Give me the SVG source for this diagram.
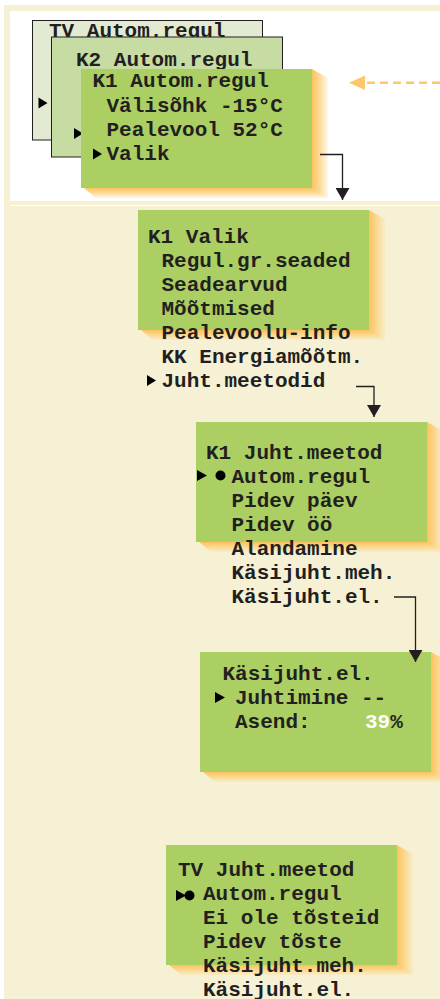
<svg xmlns="http://www.w3.org/2000/svg" width="440" height="999" viewBox="0 0 440 999">
<style>
.t{font-family:"Liberation Mono","Courier New",monospace;font-weight:bold;font-size:21px;fill:#231f20;}
.w{fill:#ffffff;}
.card{fill:#abcf62;}
.conn{fill:none;stroke:#231f20;stroke-width:1.3;}
.tri{fill:#000000;}
</style>
<defs>
<linearGradient id="shR" x1="0" y1="0" x2="1" y2="0">
<stop offset="0" stop-color="#fcc25c"/>
<stop offset="0.5" stop-color="#fdd27f" stop-opacity="0.8"/>
<stop offset="1" stop-color="#fdd88f" stop-opacity="0.2"/>
</linearGradient>
<linearGradient id="shB" x1="0" y1="0" x2="0" y2="1">
<stop offset="0" stop-color="#fcc25c"/>
<stop offset="0.5" stop-color="#fdd27f" stop-opacity="0.8"/>
<stop offset="1" stop-color="#fdd88f" stop-opacity="0.2"/>
</linearGradient>
<marker id="ah" markerUnits="userSpaceOnUse" markerWidth="12" markerHeight="14" viewBox="0 0 12 14" refX="12" refY="7" orient="auto">
<path d="M0,0 L12,7 L0,14 z" fill="#231f20"/>
</marker>
</defs>

<!-- background -->
<rect x="0" y="0" width="440" height="999" fill="#ffffff"/>
<rect x="4" y="5" width="436" height="994" fill="#f6f1d5"/>
<rect x="10" y="11" width="430" height="190" fill="#ffffff"/>
<rect x="10" y="205" width="430" height="1" fill="#ffffff"/>

<!-- TV Autom.regul (back) -->
<g id="tv-autom">
<rect x="32.5" y="20.5" width="230" height="119.5" fill="#e2ebd2" stroke="#231f20" stroke-width="1"/>
<text class="t" x="49" y="37">TV Autom.regul</text>
<polygon class="tri" points="38.5,97.5 47.5,103 38.5,108.5"/>
</g>

<!-- K2 Autom.regul -->
<g id="k2-autom">
<rect x="51.5" y="37" width="231" height="120" fill="#c7dca2" stroke="#231f20" stroke-width="1"/>
<text class="t" x="76" y="66">K2 Autom.regul</text>
<polygon class="tri" points="74,128 83,133.5 74,139"/>
</g>

<!-- K1 Autom.regul -->
<g id="k1-autom">
<polygon fill="url(#shR)" points="312,69 328,78 328,198 312,188"/>
<polygon fill="url(#shB)" points="84,188 312,188 328,198 96,198"/>
<rect class="card" x="81" y="69" width="231" height="119"/>
<text class="t" x="92.5" y="87">K1 Autom.regul</text>
<text class="t" x="106.5" y="111.5">Välisõhk -15°C</text>
<text class="t" x="106.5" y="135.5">Pealevool 52°C</text>
<text class="t" x="106.5" y="159.5">Valik</text>
<polygon class="tri" points="93,148.5 102,154 93,159.5"/>
</g>

<!-- K1 Valik -->
<g id="k1-valik">
<polygon fill="url(#shR)" points="369,210 385,219 385,340 369,330"/>
<polygon fill="url(#shB)" points="141,330 369,330 385,340 153,340"/>
<rect class="card" x="138" y="210" width="231" height="120"/>
<text class="t" x="148" y="243">K1 Valik</text>
<text class="t" x="161.5" y="267">Regul.gr.seaded</text>
<text class="t" x="161.5" y="291">Seadearvud</text>
<text class="t" x="161.5" y="315">Mõõtmised</text>
<text class="t" x="161.5" y="339">Pealevoolu-info</text>
<text class="t" x="161.5" y="363">KK Energiamõõtm.</text>
<text class="t" x="161.5" y="387">Juht.meetodid</text>
<polygon class="tri" points="147,375 156,380.5 147,386"/>
</g>

<!-- K1 Juht.meetod -->
<g id="k1-juht">
<polygon fill="url(#shR)" points="427,422 443,431 443,552 427,542"/>
<polygon fill="url(#shB)" points="199,542 427,542 443,552 211,552"/>
<rect class="card" x="196" y="422" width="231" height="120"/>
<text class="t" x="206" y="459">K1 Juht.meetod</text>
<text class="t" x="231.5" y="483">Autom.regul</text>
<text class="t" x="231.5" y="507">Pidev päev</text>
<text class="t" x="231.5" y="531">Pidev öö</text>
<text class="t" x="231.5" y="555">Alandamine</text>
<text class="t" x="231.5" y="579">Käsijuht.meh.</text>
<text class="t" x="231.5" y="603">Käsijuht.el.</text>
<polygon class="tri" points="197,470 207,475.5 197,481"/>
<circle cx="220.5" cy="475.5" r="5" fill="#000"/>
</g>

<!-- Käsijuht.el. -->
<g id="kasijuht-el">
<polygon fill="url(#shR)" points="431,652 447,661 447,782 431,772"/>
<polygon fill="url(#shB)" points="203,772 431,772 447,782 215,782"/>
<rect class="card" x="200" y="652" width="231" height="120"/>
<text class="t" x="222.5" y="680">Käsijuht.el.</text>
<text class="t" x="235" y="703.5">Juhtimine --</text>
<text class="t" x="235" y="727.5">Asend:</text>
<text class="t" x="365" y="727.5"><tspan class="w">39</tspan>%</text>
<polygon class="tri" points="215,692 225,697.5 215,703"/>
</g>

<!-- TV Juht.meetod -->
<g id="tv-juht">
<polygon fill="url(#shR)" points="397,845 413,854 413,975 397,965"/>
<polygon fill="url(#shB)" points="169,965 397,965 413,975 181,975"/>
<rect class="card" x="166" y="845" width="231" height="120"/>
<text class="t" x="178" y="876">TV Juht.meetod</text>
<text class="t" x="203" y="900">Autom.regul</text>
<text class="t" x="203" y="924">Ei ole tõsteid</text>
<text class="t" x="203" y="948">Pidev tõste</text>
<text class="t" x="203" y="972">Käsijuht.meh.</text>
<text class="t" x="203" y="996">Käsijuht.el.</text>
<polygon class="tri" points="176,890 186,895.5 176,901"/>
<circle cx="189.5" cy="895.5" r="5" fill="#000"/>
</g>

<!-- connectors -->
<g id="connectors">
<polyline class="conn" points="320,154.5 342.5,154.5 342.5,200" marker-end="url(#ah)"/>
<polyline class="conn" points="356,386.5 374,386.5 374,417" marker-end="url(#ah)"/>
<polyline class="conn" points="394,597 415.5,597 415.5,662" marker-end="url(#ah)"/>
<line x1="440" y1="82.7" x2="364" y2="82.7" stroke="#fcc86a" stroke-width="2.6" stroke-dasharray="8,5"/>
<polygon points="349,82.7 365,75.5 365,90" fill="#fcc86a"/>
</g>
</svg>
